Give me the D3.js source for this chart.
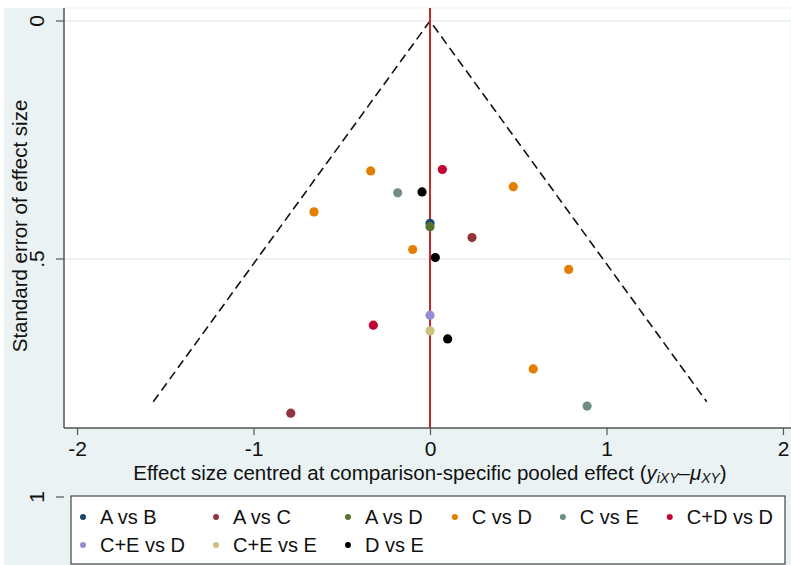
<!DOCTYPE html>
<html>
<head>
<meta charset="utf-8">
<script src="https://cdn.jsdelivr.net/npm/d3@7"></script>
<style>
    body { margin: 0; background: #fff; }
    text { font-family: "Liberation Sans", Arial, sans-serif; fill: #111; }
</style>
</head>
<body>
<script>
// comparison groups, in legend order
const groups = ["A vs B", "A vs C", "A vs D", "C vs D", "C vs E", "C+D vs D", "C+E vs D", "C+E vs E", "D vs E"];
const colors = ["#1a476f", "#90353b", "#55752f", "#e37e00", "#6e8e84", "#c10534", "#938dd2", "#cac27e", "#000000"];

// centred effect size (x) and standard error (y) for each study, per group
const effA_B = [0.0];        const seA_B = [0.425];
const effA_C = [0.238, -0.789]; const seA_C = [0.455, 0.824];
const effA_D = [0.0];        const seA_D = [0.432];
const effC_D = [-0.336, 0.472, -0.657, -0.098, 0.786, 0.585];
const seC_D  = [0.315, 0.348, 0.401, 0.480, 0.522, 0.731];
const effC_E = [-0.183, 0.890]; const seC_E = [0.361, 0.809];
const effCD_D = [0.070, -0.321]; const seCD_D = [0.312, 0.639];
const effCE_D = [0.0];       const seCE_D = [0.618];
const effCE_E = [0.0];       const seCE_E = [0.651];
const effD_E = [-0.045, 0.030, 0.100]; const seD_E = [0.359, 0.497, 0.668];

const xTicks = [-2, -1, 0, 1, 2];
const yTicks = [0, 0.5, 1];
const yTickLabels = ["0", ".5", "1"];
const seMax = 0.80;   // funnel drawn down to this standard error
const zCrit = 1.96;

const effects = [effA_B, effA_C, effA_D, effC_D, effC_E, effCD_D, effCE_D, effCE_E, effD_E];
const ses = [seA_B, seA_C, seA_D, seC_D, seC_E, seCD_D, seCE_D, seCE_E, seD_E];

let width = 791;
let height = 565;

var svg = d3.select("body").append("svg")
    .attr("width", width)
    .attr("height", height);

// graph region background
svg.append("rect")
    .attr("x", 4).attr("y", 8)
    .attr("width", width - 4).attr("height", height - 8)
    .attr("fill", "#eaf2f3");

var x = d3.scaleLinear().domain([-2, 2]).range([77, 783]);
var y = d3.scaleLinear().domain([0, 1]).range([21, 497]);

let plotLeft = 64, plotTop = 8, plotBottom = 428;

// plot region
svg.append("rect")
    .attr("x", plotLeft).attr("y", plotTop)
    .attr("width", width - plotLeft).attr("height", plotBottom - plotTop)
    .attr("fill", "#fff")
    .attr("stroke", "#eef3f4");

// gridlines
svg.append("g")
    .selectAll("line")
    .data(yTicks.filter(function(d) { return y(d) < plotBottom; }))
    .enter().append("line")
    .attr("x1", plotLeft).attr("x2", width)
    .attr("y1", function(d) { return y(d); })
    .attr("y2", function(d) { return y(d); })
    .attr("stroke", "#e6eef0")
    .attr("stroke-width", 1.5);

// funnel (pseudo 95% limits)
var funnel = [[-zCrit * seMax, seMax], [0, 0], [zCrit * seMax, seMax]];
svg.append("path")
    .datum(funnel)
    .attr("d", d3.line().x(function(d) { return x(d[0]); }).y(function(d) { return y(d[1]); }))
    .attr("fill", "none")
    .attr("stroke", "#111")
    .attr("stroke-width", 1.6)
    .attr("stroke-dasharray", "9,5");

// null line
svg.append("line")
    .attr("x1", x(0)).attr("x2", x(0))
    .attr("y1", plotTop).attr("y2", plotBottom)
    .attr("stroke", "#c8262b")
    .attr("stroke-width", 2);

// points
groups.forEach(function(g, i) {
    svg.append("g")
        .selectAll("circle")
        .data(effects[i].map(function(e, j) { return [e, ses[i][j]]; }))
        .enter().append("circle")
        .attr("cx", function(d) { return x(d[0]); })
        .attr("cy", function(d) { return y(d[1]); })
        .attr("r", 4.6)
        .attr("fill", colors[i]);
});

// x axis
var xAxis = d3.axisBottom(x).tickValues(xTicks).tickSize(7).tickPadding(6).tickFormat(d3.format("d"));
var gx = svg.append("g")
    .attr("transform", "translate(0," + plotBottom + ")")
    .call(xAxis);
gx.select(".domain").remove();
gx.append("line").attr("x1", plotLeft).attr("x2", width).attr("stroke", "#555").attr("stroke-width", 1.5);
gx.selectAll(".tick line").attr("stroke", "#555").attr("stroke-width", 1.2);
gx.selectAll(".tick text")
    .attr("font-size", 21)
    .attr("fill", "#111")
    .text(function(d) { return d < 0 ? "-" + Math.abs(d) : d; });

// y axis
var gy = svg.append("g");
gy.append("line")
    .attr("x1", plotLeft).attr("x2", plotLeft)
    .attr("y1", plotTop).attr("y2", plotBottom)
    .attr("stroke", "#555").attr("stroke-width", 1.5);
gy.selectAll(".ytick")
    .data(yTicks)
    .enter().append("line")
    .attr("x1", 56).attr("x2", plotLeft)
    .attr("y1", function(d) { return y(d); })
    .attr("y2", function(d) { return y(d); })
    .attr("stroke", "#555").attr("stroke-width", 1.2);
gy.selectAll(".ylab")
    .data(yTicks)
    .enter().append("text")
    .attr("transform", function(d) { return "translate(44," + y(d) + ") rotate(-90)"; })
    .attr("text-anchor", "middle")
    .attr("font-size", 21)
    .text(function(d, i) { return yTickLabels[i]; });

// axis titles
svg.append("text")
    .attr("transform", "translate(27,226) rotate(-90)")
    .attr("text-anchor", "middle")
    .attr("font-size", 20.5)
    .text("Standard error of effect size");

var xt = svg.append("text")
    .attr("x", 430).attr("y", 480)
    .attr("text-anchor", "middle")
    .attr("font-size", 20.5);
xt.append("tspan").text("Effect size centred at comparison-specific pooled effect (");
xt.append("tspan").attr("font-style", "italic").text("y");
xt.append("tspan").attr("font-style", "italic").attr("font-size", 14).attr("dy", 3).text("iXY");
xt.append("tspan").attr("dy", -3).text("\u2013");
xt.append("tspan").attr("font-style", "italic").text("\u03bc");
xt.append("tspan").attr("font-style", "italic").attr("font-size", 14).attr("dy", 3).text("XY");
xt.append("tspan").attr("dy", -3).text(")");

// legend
var legend = svg.append("g");
legend.append("rect")
    .attr("x", 71).attr("y", 496)
    .attr("width", 714).attr("height", 68)
    .attr("fill", "#fff")
    .attr("stroke", "#444")
    .attr("stroke-width", 1.2);

let nCols = 6;
let rowY = [517, 545];
let items = legend.selectAll(".item")
    .data(groups)
    .enter().append("g")
    .attr("class", "item");
items.append("circle")
    .attr("r", 3)
    .attr("fill", function(d, i) { return colors[i]; });
items.append("text")
    .attr("x", 17)
    .attr("dy", "0.36em")
    .attr("font-size", 20)
    .text(function(d) { return d; });

// column widths follow the widest label in each column
let colWidth = [];
items.each(function(d, i) {
    let w = this.querySelector("text").getComputedTextLength();
    let c = i % nCols;
    colWidth[c] = Math.max(colWidth[c] || 0, w);
});
let colX = [83];
for (var c = 1; c < nCols; c++) colX[c] = colX[c - 1] + 17 + colWidth[c - 1] + 31;
items.attr("transform", function(d, i) {
    return "translate(" + colX[i % nCols] + "," + rowY[Math.floor(i / nCols)] + ")";
});
</script>
</body>
</html>
